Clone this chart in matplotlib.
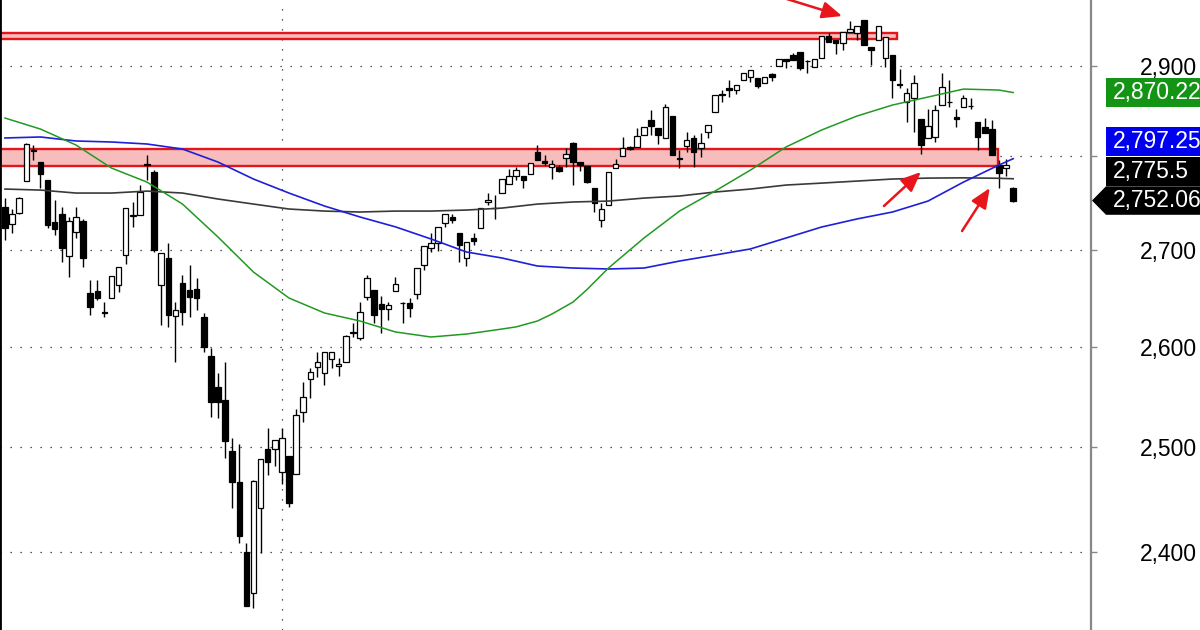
import matplotlib
matplotlib.use("Agg")
import matplotlib.pyplot as plt
import matplotlib.ticker as mt
from matplotlib.patches import Rectangle, Polygon
from matplotlib.transforms import IdentityTransform
import numpy as np

plt.rcParams['font.family'] = ['Liberation Sans', 'DejaVu Sans']

# ---------------- data ----------------
opens = [2745, 2727, 2739, 2773, 2807, 2794, 2774, 2729, 2738, 2693,
         2719, 2730, 2655, 2657, 2635, 2650, 2663, 2694, 2736, 2737,
         2791, 2783, 2663, 2691, 2631, 2665, 2658, 2659, 2630, 2590,
         2559, 2546, 2496, 2466, 2400, 2362, 2442, 2498, 2498, 2476,
         2492, 2474, 2535, 2567, 2579, 2573, 2587, 2580, 2584, 2614,
         2609, 2651, 2658, 2643, 2638, 2657, 2644, 2644, 2654, 2684,
         2702, 2707, 2728, 2734, 2717, 2691, 2712, 2723, 2750, 2744,
         2760, 2770, 2778, 2779, 2781, 2805, 2795, 2788, 2788, 2798,
         2814, 2794, 2789, 2766, 2731, 2747, 2787, 2800, 2810, 2810,
         2823, 2840, 2831, 2820, 2844, 2798, 2811, 2820, 2809, 2826,
         2849, 2869, 2875, 2873, 2884, 2888, 2887, 2881, 2891, 2900,
         2908, 2913, 2916, 2906, 2899, 2909, 2934, 2929, 2926, 2939,
         2938, 2952, 2922, 2929, 2909, 2913, 2880, 2860, 2864, 2841,
         2820, 2821, 2856, 2860, 2843, 2854, 2855, 2837, 2832, 2830,
         2790, 2787, 2765]
highs = [2755, 2743, 2756, 2814, 2812, 2794, 2774, 2753, 2745, 2734,
         2745, 2732, 2668, 2668, 2645, 2672, 2682, 2744, 2750, 2769,
         2801, 2785, 2696, 2707, 2645, 2673, 2684, 2670, 2634, 2599,
         2573, 2584, 2509, 2503, 2409, 2468, 2489, 2519, 2507, 2519,
         2492, 2538, 2564, 2578, 2594, 2595, 2595, 2588, 2612, 2624,
         2646, 2673, 2658, 2652, 2645, 2671, 2645, 2650, 2681, 2704,
         2717, 2724, 2738, 2738, 2717, 2708, 2717, 2744, 2760, 2758,
         2775, 2786, 2788, 2779, 2793, 2812, 2801, 2796, 2790, 2809,
         2815, 2794, 2789, 2766, 2749, 2783, 2797, 2821, 2811, 2831,
         2832, 2851, 2831, 2858, 2844, 2807, 2827, 2823, 2825, 2834,
         2868, 2873, 2884, 2879, 2892, 2896, 2887, 2888, 2892, 2908,
         2908, 2915, 2916, 2907, 2908, 2934, 2937, 2929, 2939, 2951,
         2946, 2952, 2922, 2946, 2933, 2913, 2897, 2875, 2890, 2841,
         2852, 2856, 2892, 2884, 2852, 2868, 2864, 2837, 2842, 2840,
         2796, 2797, 2767]
lows = [2710, 2717, 2738, 2773, 2796, 2765, 2723, 2715, 2687, 2671,
        2712, 2682, 2632, 2648, 2630, 2650, 2656, 2685, 2724, 2737,
        2774, 2698, 2622, 2620, 2584, 2622, 2630, 2637, 2595, 2530,
        2529, 2490, 2442, 2409, 2350, 2348, 2399, 2473, 2482, 2465,
        2443, 2474, 2525, 2548, 2569, 2561, 2578, 2570, 2584, 2610,
        2607, 2648, 2624, 2614, 2627, 2657, 2624, 2630, 2649, 2679,
        2698, 2699, 2724, 2728, 2687, 2683, 2705, 2723, 2747, 2732,
        2760, 2770, 2774, 2765, 2781, 2796, 2790, 2775, 2783, 2788,
        2769, 2784, 2771, 2740, 2724, 2747, 2787, 2800, 2807, 2810,
        2823, 2823, 2813, 2820, 2801, 2787, 2805, 2788, 2799, 2820,
        2849, 2860, 2865, 2869, 2884, 2882, 2875, 2881, 2883, 2900,
        2898, 2907, 2895, 2892, 2899, 2909, 2927, 2914, 2918, 2939,
        2930, 2924, 2901, 2929, 2899, 2864, 2875, 2837, 2827, 2802,
        2820, 2816, 2856, 2854, 2832, 2854, 2852, 2807, 2825, 2801,
        2765, 2778, 2751]
closes = [2723, 2738, 2755, 2813, 2806, 2781, 2726, 2722, 2702, 2730,
          2735, 2691, 2640, 2650, 2634, 2672, 2682, 2744, 2737, 2761,
          2790, 2700, 2696, 2632, 2637, 2635, 2651, 2650, 2600, 2544,
          2544, 2506, 2466, 2415, 2350, 2467, 2489, 2486, 2507, 2509,
          2446, 2532, 2549, 2574, 2584, 2595, 2595, 2582, 2611, 2615,
          2635, 2670, 2632, 2638, 2642, 2664, 2644, 2639, 2681, 2704,
          2707, 2724, 2738, 2731, 2705, 2708, 2709, 2744, 2753, 2744,
          2775, 2778, 2785, 2774, 2793, 2796, 2793, 2791, 2784, 2802,
          2794, 2790, 2772, 2749, 2743, 2783, 2791, 2809, 2808, 2822,
          2832, 2833, 2823, 2854, 2801, 2797, 2818, 2805, 2814, 2834,
          2868, 2867, 2873, 2879, 2892, 2896, 2878, 2888, 2888, 2908,
          2906, 2907, 2898, 2906, 2908, 2934, 2927, 2926, 2939, 2942,
          2946, 2924, 2918, 2946, 2933, 2884, 2879, 2870, 2881, 2812,
          2833, 2851, 2876, 2860, 2841, 2864, 2855, 2821, 2825, 2801,
          2782, 2790, 2752.06]

# moving averages at the listed candle indices
ma_idx = [0, 5, 10, 15, 20, 25, 30, 35, 40, 45, 50, 55, 60, 65, 70,
          75, 80, 85, 90, 95, 100, 105, 110, 115, 120, 125, 130, 135, 140, 142]
green_idx = [0, 5, 10, 15, 20, 25, 30, 35, 40, 45, 50, 55, 60, 65, 70,
             72, 75, 77, 80, 82, 85, 90, 95, 100, 105, 110, 115, 120, 125,
             130, 135, 140, 142]
ma_green = [2841.9, 2829.7, 2812.2, 2787.1, 2771.9, 2748.3, 2713.3, 2676.5,
            2649.6, 2634.2, 2626.0, 2614.8, 2609.7, 2612.7, 2617.8, 2620.0,
            2626.0, 2633.0, 2645.4, 2658.5, 2680.7, 2712.2, 2740.8, 2762.2,
            2784.9, 2810.0, 2828.6, 2844.1, 2856.3, 2865.2, 2874.1, 2873.0,
            2870.22]
ma_blue = [2819.9, 2821.0, 2816.6, 2815.5, 2813.3, 2807.8, 2793.6, 2775.2,
           2760.1, 2746.2, 2734.5, 2724.0, 2711.2, 2697.5, 2691.2, 2682.8,
           2680.7, 2679.7, 2680.7, 2688.0, 2694.3, 2700.7, 2712.2, 2723.8,
           2732.4, 2739.8, 2751.5, 2771.9, 2790.4, 2797.25]
ma_black = [2764.4, 2763.3, 2760.1, 2760.1, 2762.2, 2760.1, 2753.7, 2748.3,
            2743.0, 2740.8, 2739.8, 2740.8, 2740.8, 2741.9, 2744.0, 2748.3,
            2750.5, 2751.5, 2754.7, 2756.9, 2761.2, 2764.4, 2768.7, 2770.8,
            2773.0, 2775.2, 2776.2, 2776.5, 2776.0, 2775.5]

# support / resistance zones: (low, high, last candle index)
zone_low = [2931.2, 2789.3]
zone_high = [2938.0, 2807.8]
zone_end = [125.6, 139.8]

# red arrows: tails and tips (candle index, price)
arrow_tail = [(109.2, 2979.0), (123.8, 2746.2), (134.8, 2719.6)]
arrow_tip = [(117.9, 2957.0), (129.0, 2782.8), (138.7, 2765.5)]

y_ticks = [2400, 2500, 2600, 2700, 2800, 2900]
hidden_tick = 2800          # its label sits under the price boxes
year_break = 39

# ---------------- figure ----------------
W, H = 1200, 630
fig = plt.figure(figsize=(W / 100, H / 100), dpi=100)
ax = fig.add_axes([0, 0, 1091 / W, 1])
ax.set_yscale('log')

n = len(opens)
x = np.arange(n)
o = np.array(opens, float)
c = np.array(closes, float)
hi = np.array(highs, float)
lo = np.array(lows, float)

# zones
for zl, zh, ze in zip(zone_low, zone_high, zone_end):
    ax.add_patch(Rectangle((-5, zl), ze + 5, zh - zl, facecolor='#f7bcbc',
                           edgecolor='#e3161b', lw=1.7, zorder=1))

# grid
for t in y_ticks:
    ax.axhline(t, color='#222222', lw=0.9, ls=(0, (1, 7)), zorder=0.5)
ax.axvline(year_break, color='#222222', lw=0.9, ls=(0, (1, 7)), zorder=0.5)

# candles
ax.vlines(x, lo, hi, color='black', lw=1.0, zorder=2)
up = c >= o
bw = 0.78
ax.bar(x[up], (c - o)[up], bottom=o[up], width=bw, facecolor='white',
       edgecolor='black', lw=0.9, zorder=3)
ax.bar(x[~up], (o - c)[~up], bottom=c[~up], width=bw, facecolor='black',
       edgecolor='black', lw=0.9, zorder=3)

# moving averages
ax.plot(ma_idx, ma_black, color='#3a3a3a', lw=1.2, zorder=4)
ax.plot(ma_idx, ma_blue, color='#1f1fd8', lw=1.2, zorder=4)
ax.plot(green_idx, ma_green, color='#229922', lw=1.1, zorder=4)

# arrows
for tail, tip in zip(arrow_tail, arrow_tip):
    ax.annotate('', xy=tip, xytext=tail, annotation_clip=False,
                arrowprops=dict(arrowstyle='-|>,head_length=0.75,head_width=0.32',
                                color='#e8161b', lw=1.8, shrinkA=0, shrinkB=0,
                                mutation_scale=16), zorder=6)

# axes
ax.set_xlim(-0.7, 152.96)
ax.set_ylim(2328.4, 2975.5)
ax.yaxis.set_major_locator(mt.FixedLocator(y_ticks))
ax.yaxis.set_minor_locator(mt.NullLocator())
ax.yaxis.set_major_formatter(
    mt.FuncFormatter(lambda v, p: '' if abs(v - hidden_tick) < 1 else f"{v:,.0f}"))
ax.yaxis.tick_right()
ax.tick_params(axis='y', which='major', direction='out', length=4, width=1,
               color='#888888', pad=31.5, labelsize=16.5, labelcolor='black')
ax.set_xticks([])
for s in ['top', 'bottom']:
    ax.spines[s].set_visible(False)
ax.spines['right'].set_color('#888888')
ax.spines['right'].set_linewidth(1.6)
ax.spines['left'].set_color('black')
ax.spines['left'].set_linewidth(2.0)
ax.set_facecolor('white')

# price labels on the right
def ypix(v):
    return ax.transData.transform((0, v))[1]

idt = IdentityTransform()
bx = 1106
bh = 28.5
yc_close = ypix(closes[-1])
yc_green = ypix(ma_green[-1])
yc_black = yc_close + 29
yc_blue = yc_black + 30

labels = [(yc_green, '#149414', f"{ma_green[-1]:,.2f}"),
          (yc_blue, '#0000f0', f"{ma_blue[-1]:,.2f}"),
          (yc_black, 'black', f"{ma_black[-1]:,.1f}")]
for yc, col, txt in labels:
    fig.patches.append(Rectangle((bx, yc - bh / 2), 120, bh, facecolor=col,
                                 edgecolor='none', transform=idt, figure=fig))
    fig.text(1113 / W, yc / H, txt, color='white', fontsize=16.5, va='center',
             ha='left')

poly = Polygon([(1092, yc_close), (bx, yc_close + bh / 2), (1220, yc_close + bh / 2),
                (1220, yc_close - bh / 2), (bx, yc_close - bh / 2)], closed=True,
               facecolor='black', edgecolor='none', transform=idt, figure=fig)
fig.patches.append(poly)
fig.text(1113 / W, yc_close / H, f"{closes[-1]:,.2f}", color='white', fontsize=16.5,
         va='center', ha='left')

fig.savefig('out.png', dpi=100, facecolor='white')
